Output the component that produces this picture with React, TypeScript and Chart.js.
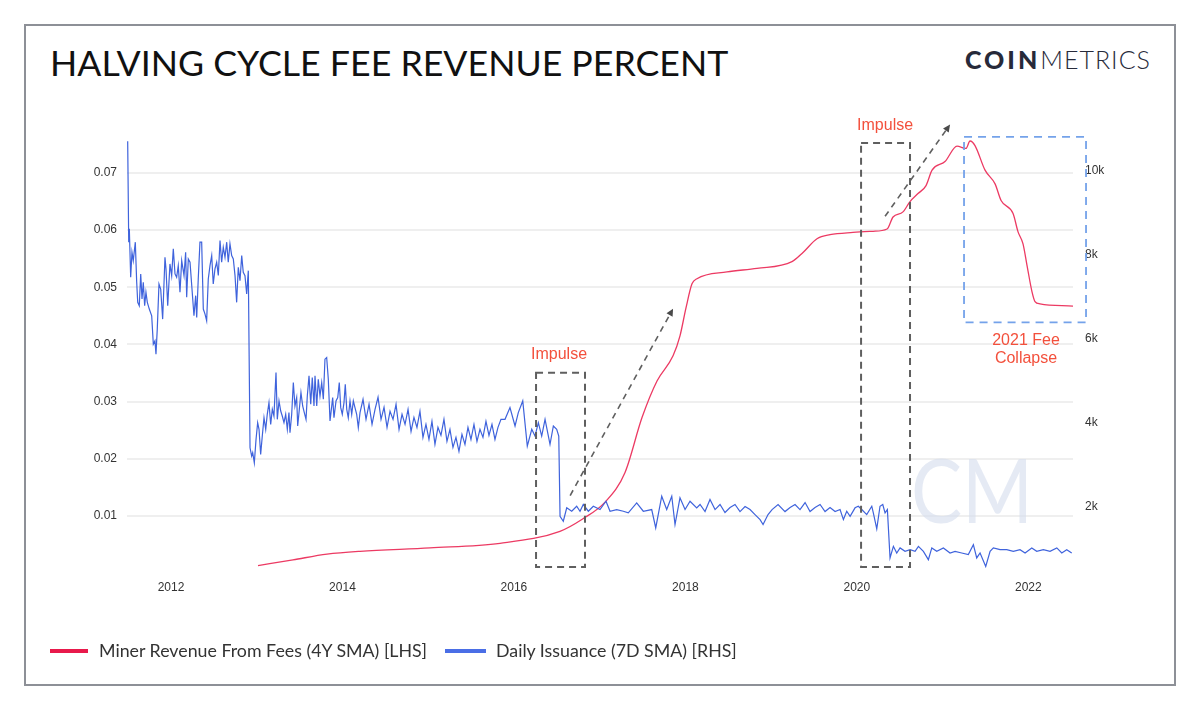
import React, { useEffect, useRef } from "react";
import { Chart, registerables } from "chart.js";

Chart.register(...registerables);

// ---------------- DATA ----------------
// Miner revenue from fees (4Y SMA), left axis (fraction)
const feeYears = [
  2013.015, 2013.423, 2013.82, 2014.205, 2015.021, 2015.838, 2016.537, 2016.806, 2017.063, 2017.296,
  2017.494, 2017.669, 2017.856, 2017.937, 2018.007, 2018.077, 2018.135, 2018.485, 2018.835, 2019.243,
  2019.372, 2019.535, 2019.687, 2019.955, 2020.189, 2020.352, 2020.422, 2020.538, 2020.62, 2020.713,
  2020.807, 2020.877, 2021.028, 2021.168, 2021.273, 2021.32, 2021.378, 2021.495, 2021.612, 2021.682,
  2021.822, 2021.88, 2021.938, 2021.985, 2022.043, 2022.078, 2022.136, 2022.521,
];
const feeValues = [
  0.0013, 0.0023, 0.0033, 0.0038, 0.0044, 0.0052, 0.0073, 0.0095, 0.0124, 0.0176,
  0.0272, 0.0336, 0.038, 0.0415, 0.0464, 0.0506, 0.0515, 0.0527, 0.0533, 0.0545,
  0.0561, 0.0585, 0.0592, 0.0596, 0.0598, 0.0602, 0.0623, 0.0632, 0.065, 0.0664,
  0.0678, 0.0705, 0.072, 0.0747, 0.0743, 0.0756, 0.0748, 0.0705, 0.0681, 0.0652,
  0.0629, 0.0597, 0.0576, 0.0538, 0.0492, 0.0475, 0.0471, 0.0467,
];

// Daily issuance (7D SMA), right axis (BTC)
const issuanceYears = [
  2011.495, 2011.507, 2011.514, 2011.53, 2011.545, 2011.56, 2011.584, 2011.6, 2011.612, 2011.63,
  2011.647, 2011.662, 2011.677, 2011.693, 2011.708, 2011.724, 2011.747, 2011.775, 2011.794, 2011.813,
  2011.825, 2011.84, 2011.86, 2011.88, 2011.903, 2011.93, 2011.942, 2011.962, 2011.988, 2012.008,
  2012.027, 2012.047, 2012.066, 2012.085, 2012.105, 2012.125, 2012.152, 2012.171, 2012.183, 2012.202,
  2012.222, 2012.268, 2012.288, 2012.3, 2012.318, 2012.338, 2012.358, 2012.377, 2012.397, 2012.416,
  2012.435, 2012.455, 2012.475, 2012.493, 2012.513, 2012.533, 2012.552, 2012.572, 2012.591, 2012.61,
  2012.63, 2012.65, 2012.668, 2012.688, 2012.708, 2012.727, 2012.747, 2012.766, 2012.785, 2012.805,
  2012.825, 2012.843, 2012.863, 2012.883, 2012.902, 2012.922,
  2012.941, 2012.953, 2012.972, 2012.992, 2013.011, 2013.027, 2013.046, 2013.065, 2013.085, 2013.105,
  2013.123, 2013.143, 2013.163, 2013.182, 2013.201, 2013.225, 2013.24, 2013.26, 2013.28, 2013.298,
  2013.318, 2013.338, 2013.357, 2013.376, 2013.388, 2013.408, 2013.427, 2013.446, 2013.466, 2013.478,
  2013.497, 2013.516, 2013.536, 2013.555, 2013.575, 2013.59, 2013.61, 2013.63, 2013.648, 2013.668,
  2013.68, 2013.7, 2013.718, 2013.738, 2013.758, 2013.777, 2013.796, 2013.816, 2013.835, 2013.855,
  2013.875, 2013.886, 2013.901, 2013.925, 2013.945, 2013.963, 2013.98, 2013.998, 2014.018, 2014.033,
  2014.05, 2014.068, 2014.088, 2014.108, 2014.127, 2014.146, 2014.166, 2014.185, 2014.205,
  2014.24, 2014.275, 2014.31, 2014.345, 2014.38, 2014.415, 2014.45, 2014.485, 2014.52, 2014.555,
  2014.59, 2014.625, 2014.66, 2014.695, 2014.73, 2014.765, 2014.8, 2014.834, 2014.869, 2014.904,
  2014.939, 2014.974, 2015.009, 2015.044, 2015.079, 2015.114, 2015.149, 2015.184, 2015.219, 2015.254,
  2015.289, 2015.324, 2015.359, 2015.394, 2015.429, 2015.464, 2015.499, 2015.534, 2015.569, 2015.604,
  2015.639, 2015.674, 2015.709, 2015.744, 2015.779, 2015.814, 2015.849,
  2015.896, 2015.954, 2016.013, 2016.051, 2016.103, 2016.156, 2016.208, 2016.246, 2016.285, 2016.324,
  2016.363, 2016.421, 2016.46, 2016.499, 2016.523, 2016.538, 2016.576, 2016.616, 2016.674, 2016.732,
  2016.771, 2016.809, 2016.868, 2016.926, 2017.004, 2017.074, 2017.121, 2017.199, 2017.276, 2017.334,
  2017.432, 2017.509, 2017.607, 2017.654, 2017.724, 2017.782, 2017.841, 2017.879, 2017.937, 2017.996,
  2018.054, 2018.132,
  2018.171, 2018.229, 2018.287, 2018.346, 2018.404, 2018.462, 2018.521, 2018.579, 2018.637, 2018.696,
  2018.754, 2018.812, 2018.871, 2018.906, 2018.964, 2019.011, 2019.081, 2019.162, 2019.221, 2019.279,
  2019.337, 2019.396, 2019.454, 2019.512, 2019.571, 2019.629, 2019.687, 2019.746,
  2019.804, 2019.843, 2019.882, 2019.921, 2019.979, 2020.017, 2020.057, 2020.115, 2020.174, 2020.192,
  2020.232, 2020.27, 2020.302, 2020.329, 2020.356, 2020.387, 2020.426, 2020.465, 2020.504, 2020.562,
  2020.621, 2020.679, 2020.718, 2020.776, 2020.834, 2020.874, 2020.932, 2021.009, 2021.087, 2021.145,
  2021.223, 2021.3, 2021.359, 2021.398, 2021.437, 2021.503, 2021.554, 2021.592, 2021.67, 2021.748,
  2021.825, 2021.903, 2021.962, 2022.04, 2022.098, 2022.175, 2022.253, 2022.332, 2022.39, 2022.448,
  2022.506,
];
const issuanceValues = [
  10692, 8290, 8608, 7454, 8051, 7851, 8290, 7342, 6857, 6776,
  7533, 6936, 7334, 6776, 7096, 6857, 6697, 6537, 5861, 5941,
  5623, 6219, 7294, 7175, 6458, 7932, 7652, 6776, 7772, 7493,
  8130, 7533, 7454, 7732, 7096, 7851, 7493, 8051, 6976, 7891,
  7812, 6537, 7016, 6498, 7414, 8290, 8290, 6697, 6578, 6418,
  7414, 7732, 7971, 7294, 7652, 7812, 7500, 8329, 7812, 8170,
  7932, 8290, 7812, 8250, 7971, 7891, 7493, 6857, 7692, 7373,
  7971, 7573, 7493, 7056, 7612, 3393,
  3194, 3275, 3036, 3593, 3991, 3832, 3235, 3672, 4110, 3832,
  4190, 4469, 3951, 4309, 4150, 5185, 4070, 4508, 4269, 4150,
  3991, 4190, 3832, 4230, 3752, 4190, 4946, 4388, 4588, 3911,
  4309, 4708, 4388, 4230, 4070, 4627, 5105, 4429, 5066, 4388,
  5105, 4388, 5026, 4627, 4946, 4548, 5503, 5543, 5026, 4030,
  4388, 4588, 4110, 4508, 4588, 4946, 4349, 4190, 4469, 4906,
  4309, 4110, 4508, 4190, 4508, 4349, 4190, 3872, 4230,
  4547, 4070, 4428, 3950, 4309, 4596, 4070, 4357, 3879, 4261,
  4070, 4428, 3831, 4189, 3950, 4309, 3783, 4118, 3879, 4261,
  3640, 3950, 3592, 4022, 3473, 3879, 3688, 4070, 3545, 3831,
  3401, 3640, 3306, 3712, 3473, 3879, 3592, 3950, 3545, 3831,
  3640, 4022, 3688, 3950, 3592, 3879, 4070,
  4070, 4349, 3911, 4230, 4508, 3433, 3832, 3672, 3991, 3672,
  4070, 3473, 3911, 3832, 3672, 1761, 1642, 1962, 1881, 2000,
  1881, 2041, 1881, 2000, 1921, 2119, 1881, 1921, 1881, 1842,
  2081, 1881, 1921, 1484, 2239, 1921, 2239, 1563, 2200, 1921,
  2119, 1962,
  2041, 1873, 2160, 1921, 2041, 1850, 1970, 2041, 1873, 1993,
  1921, 1802, 1682, 1563, 1802, 1921, 2041, 1873, 1970, 2041,
  1921, 2088, 1873, 1970, 2041, 1873, 1970, 1873,
  1921, 1682, 1881, 1761, 1962, 2000, 1921, 1802, 2000, 1842,
  1460, 2000, 2041, 1842, 1921, 768, 1045, 887, 1007, 925,
  966, 925, 1045, 925, 727, 1007, 925, 1007, 887, 925,
  887, 847, 1085, 768, 887, 567, 925, 1007, 966, 966,
  925, 966, 887, 1007, 925, 966, 925, 1007, 887, 966,
  887,
];

const xTickYears = [2012, 2014, 2016, 2018, 2020, 2022];
const leftTicks = [0.01, 0.02, 0.03, 0.04, 0.05, 0.06, 0.07];
const rightTicks = [2000, 4000, 6000, 8000, 10000];

const seriesNames = ["Miner Revenue From Fees (4Y SMA) [LHS]", "Daily Issuance (7D SMA) [RHS]"];

// Annotations (data coordinates: year, left-axis value)
const impulseBoxes = [
  { x0: 2016.258, x1: 2016.829, y0: 0.00107, y1: 0.03504 },
  { x0: 2020.049, x1: 2020.62, y0: 0.00107, y1: 0.07527 },
];
const impulseLabels = [
  { x: 2016.526, y: 0.0382, text: "Impulse" },
  { x: 2020.329, y: 0.0783, text: "Impulse" },
];
const impulseArrows = [
  { x0: 2016.656, y0: 0.01356, x1: 2017.856, y1: 0.04625 },
  { x0: 2020.329, y0: 0.06242, x1: 2021.087, y1: 0.07848 },
];
const collapseBox = { x0: 2021.25, x1: 2022.673, y0: 0.04385, y1: 0.07632 };
const collapseLabel = { x: 2021.973, y: 0.0407, lines: ["2021 Fee", "Collapse"] };
const watermark = { x: 2021.343, y: 0.0138, text: "CM" };

// ---------------- STYLE ----------------
const RED = "#ec3a63";
const BLUE = "#3f63dc";
const ANNOT_RED = "#f3503c";
const TICK_FONT = "'Liberation Sans', Arial, Helvetica, sans-serif";

const annotationPlugin = {
  id: "cmAnnotations",
  beforeDatasetsDraw(chart: any) {
    const { ctx, scales } = chart;
    const x = scales.x;
    const y = scales.yL;
    ctx.save();
    ctx.fillStyle = "rgba(212, 220, 236, 0.6)";
    ctx.font = "400 90px Lato, 'Open Sans', sans-serif";
    ctx.textAlign = "center";
    ctx.textBaseline = "middle";
    const px = x.getPixelForValue(watermark.x);
    const py = y.getPixelForValue(watermark.y);
    ctx.translate(px, py);
    ctx.scale(0.85, 1);
    ctx.fillText(watermark.text, 0, 0);
    ctx.restore();
  },
  afterDatasetsDraw(chart: any) {
    const { ctx, scales } = chart;
    const x = scales.x;
    const y = scales.yL;
    ctx.save();
    // impulse boxes
    ctx.strokeStyle = "#5f5f5f";
    ctx.lineWidth = 2;
    ctx.setLineDash([7, 5]);
    impulseBoxes.forEach((b) => {
      const l = x.getPixelForValue(b.x0);
      const r = x.getPixelForValue(b.x1);
      const t = y.getPixelForValue(b.y1);
      const bt = y.getPixelForValue(b.y0);
      ctx.strokeRect(l, t, r - l, bt - t);
    });
    // arrows
    ctx.lineWidth = 1.6;
    ctx.setLineDash([6, 5]);
    impulseArrows.forEach((a) => {
      const sx = x.getPixelForValue(a.x0);
      const sy = y.getPixelForValue(a.y0);
      const ex = x.getPixelForValue(a.x1);
      const ey = y.getPixelForValue(a.y1);
      const ang = Math.atan2(ey - sy, ex - sx);
      ctx.beginPath();
      ctx.moveTo(sx, sy);
      ctx.lineTo(ex - Math.cos(ang) * 4, ey - Math.sin(ang) * 4);
      ctx.stroke();
      ctx.setLineDash([]);
      ctx.fillStyle = "#4a4a4a";
      ctx.beginPath();
      ctx.moveTo(ex, ey);
      ctx.lineTo(ex - Math.cos(ang - 0.45) * 8, ey - Math.sin(ang - 0.45) * 8);
      ctx.lineTo(ex - Math.cos(ang + 0.45) * 8, ey - Math.sin(ang + 0.45) * 8);
      ctx.closePath();
      ctx.fill();
      ctx.setLineDash([6, 5]);
    });
    // collapse box
    ctx.strokeStyle = "#74a2ea";
    ctx.lineWidth = 1.8;
    ctx.setLineDash([8, 6]);
    {
      const l = x.getPixelForValue(collapseBox.x0);
      const r = x.getPixelForValue(collapseBox.x1);
      const t = y.getPixelForValue(collapseBox.y1);
      const bt = y.getPixelForValue(collapseBox.y0);
      ctx.strokeRect(l, t, r - l, bt - t);
    }
    ctx.setLineDash([]);
    // labels
    ctx.fillStyle = ANNOT_RED;
    ctx.font = "16px 'Liberation Sans', Arial, sans-serif";
    ctx.textAlign = "center";
    ctx.textBaseline = "middle";
    impulseLabels.forEach((lb) => {
      ctx.fillText(lb.text, x.getPixelForValue(lb.x), y.getPixelForValue(lb.y));
    });
    const cx = x.getPixelForValue(collapseLabel.x);
    const cy = y.getPixelForValue(collapseLabel.y);
    collapseLabel.lines.forEach((t, i) => ctx.fillText(t, cx, cy + i * 18.5));
    ctx.restore();
  },
};

export default function App() {
  const canvasRef = useRef<HTMLCanvasElement | null>(null);

  useEffect(() => {
    const canvas = canvasRef.current;
    if (!canvas) return;
    const feeData = feeYears.map((t, i) => ({ x: t, y: feeValues[i] }));
    const issData = issuanceYears.map((t, i) => ({ x: t, y: issuanceValues[i] }));
    const chart = new Chart(canvas, {
      type: "line",
      data: {
        datasets: [
          {
            label: seriesNames[1],
            data: issData,
            yAxisID: "yR",
            borderColor: BLUE,
            borderWidth: 1.2,
            pointRadius: 0,
            tension: 0,
          },
          {
            label: seriesNames[0],
            data: feeData,
            yAxisID: "yL",
            borderColor: RED,
            borderWidth: 1.3,
            pointRadius: 0,
            cubicInterpolationMode: "monotone",
          },
        ],
      },
      options: {
        responsive: false,
        animation: false,
        devicePixelRatio: 1,
        parsing: false as any,
        layout: { padding: { left: 60, right: 57, top: 133, bottom: 107 } },
        plugins: { legend: { display: false }, tooltip: { enabled: false } },
        scales: {
          x: {
            type: "linear",
            min: 2011.487,
            max: 2022.521,
            grid: { display: false, drawTicks: false },
            border: { display: false },
            ticks: {
              padding: 7,
              color: "#333",
              font: { family: TICK_FONT, size: 12 },
              callback: (v: any) => String(v),
            },
            afterBuildTicks: (s: any) => {
              s.ticks = xTickYears.map((v) => ({ value: v }));
            },
            afterFit: (s: any) => {
              s.height = 30;
            },
          },
          yL: {
            type: "linear",
            position: "left",
            min: 0,
            max: 0.077,
            grid: { color: "#efefef", lineWidth: 2, drawTicks: false },
            border: { display: false },
            ticks: {
              padding: 10,
              color: "#333",
              font: { family: TICK_FONT, size: 12 },
              callback: (v: any) => Number(v).toFixed(2),
            },
            afterBuildTicks: (s: any) => {
              s.ticks = leftTicks.map((v) => ({ value: v }));
            },
            afterFit: (s: any) => {
              s.width = 67;
            },
          },
          yR: {
            type: "linear",
            position: "right",
            min: 409.6,
            max: 10891,
            grid: { display: false, drawTicks: false },
            border: { display: false },
            ticks: {
              padding: 12,
              color: "#333",
              font: { family: TICK_FONT, size: 12 },
              callback: (v: any) => `${Number(v) / 1000}k`,
            },
            afterBuildTicks: (s: any) => {
              s.ticks = rightTicks.map((v) => ({ value: v }));
            },
            afterFit: (s: any) => {
              s.width = 70;
            },
          },
        },
      },
      plugins: [annotationPlugin],
    });
    return () => chart.destroy();
  }, []);

  return (
    <div
      style={{
        position: "absolute",
        left: 0,
        top: 0,
        width: 1200,
        height: 710,
        background: "#fff",
        overflow: "hidden",
      }}
    >
      <div
        style={{
          position: "absolute",
          left: 24,
          top: 24,
          width: 1148,
          height: 658,
          border: "2px solid #8d9097",
        }}
      />
      <div
        style={{
          position: "absolute",
          left: 50,
          top: 45,
          fontFamily: "Lato, sans-serif",
          fontSize: 35.7,
          lineHeight: 1,
          color: "#111",
          whiteSpace: "nowrap",
        }}
      >
        HALVING CYCLE FEE REVENUE PERCENT
      </div>
      <div
        style={{
          position: "absolute",
          left: 965,
          top: 46.5,
          fontFamily: "Lato, sans-serif",
          fontSize: 25,
          lineHeight: 1,
          color: "#272a3a",
          whiteSpace: "nowrap",
        }}
      >
        <span style={{ fontWeight: 900, letterSpacing: 3 }}>COIN</span>
        <span style={{ fontWeight: 300, letterSpacing: 1 }}>METRICS</span>
      </div>
      <canvas
        ref={canvasRef}
        width={1200}
        height={710}
        style={{ position: "absolute", left: 0, top: 0, width: 1200, height: 710 }}
      />
      <div
        style={{
          position: "absolute",
          left: 50,
          top: 641,
          height: 20,
          display: "flex",
          alignItems: "center",
          fontFamily: "Lato, sans-serif",
          fontSize: 17.8,
          lineHeight: 1,
          color: "#333",
          whiteSpace: "nowrap",
        }}
      >
        <span style={{ display: "inline-block", width: 38, height: 4, background: "#e8194b", marginRight: 11 }} />
        <span>{seriesNames[0]}</span>
        <span
          style={{ display: "inline-block", width: 41, height: 4, background: "#4a6ee6", marginLeft: 18, marginRight: 10 }}
        />
        <span>{seriesNames[1]}</span>
      </div>
    </div>
  );
}
